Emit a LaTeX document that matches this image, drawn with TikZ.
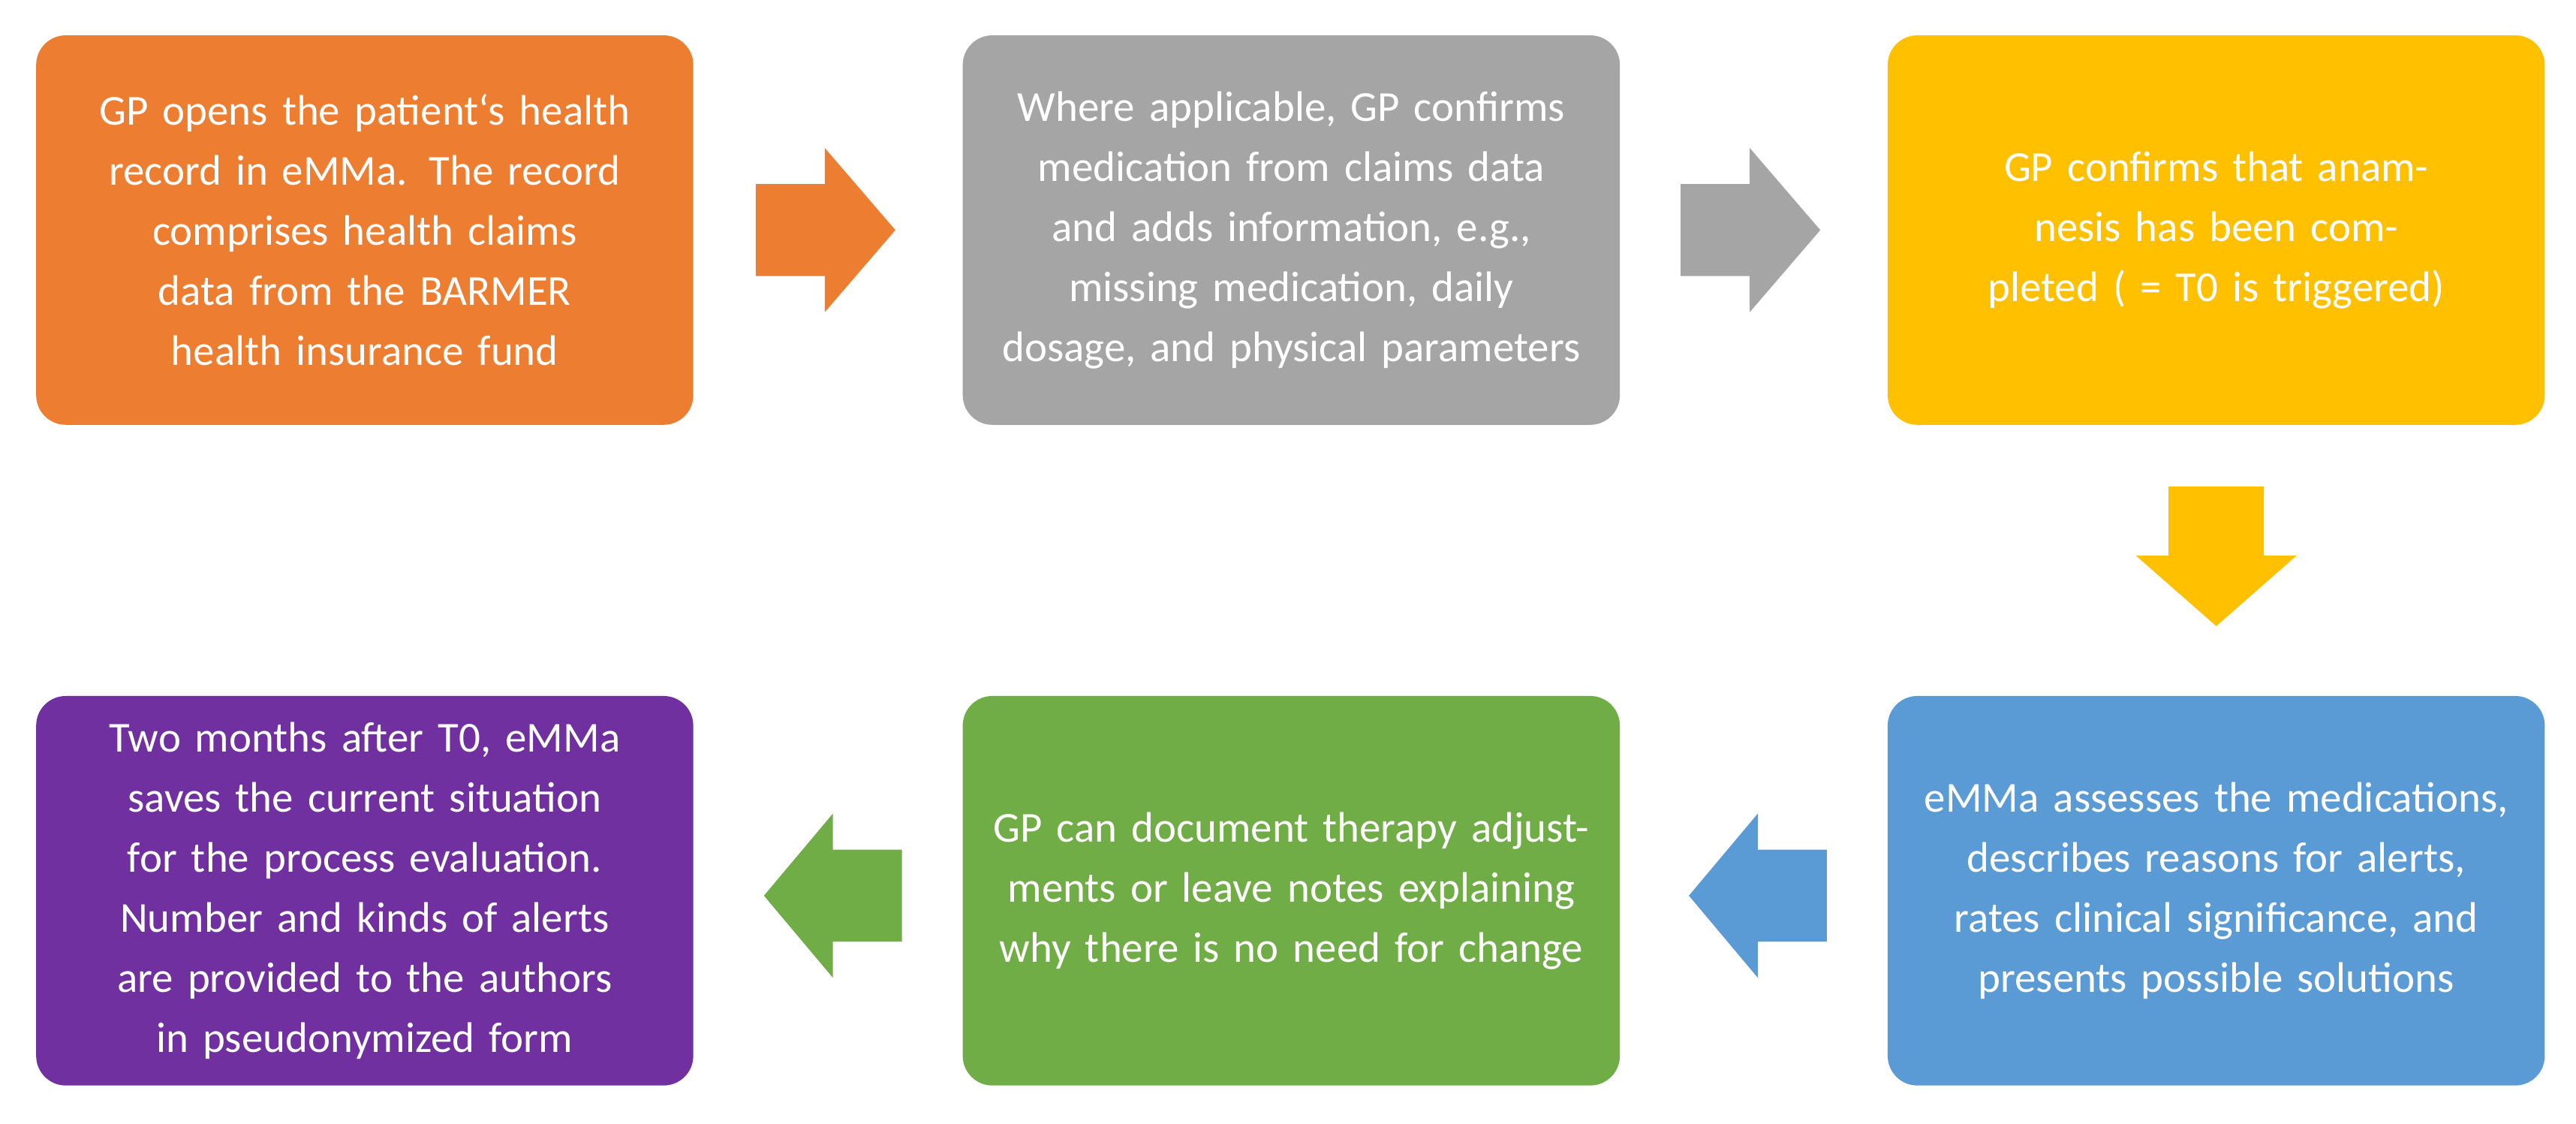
\documentclass[tikz,border=0pt]{standalone}
\usepackage{fontspec}
\setmainfont{Carlito}
\definecolor{cO}{HTML}{ED7D31}\definecolor{cG}{HTML}{A5A5A5}\definecolor{cY}{HTML}{FFC000}
\definecolor{cB}{HTML}{5B9BD5}\definecolor{cN}{HTML}{70AD47}\definecolor{cP}{HTML}{7030A0}
\begin{document}
\begin{tikzpicture}[x=0.05cm,y=-0.05cm,
 box/.style={rounded corners=0.9cm,minimum width=20cm,minimum height=11.85cm,text width=18.6cm,align=center,text=white,inner sep=0pt,font=\fontsize{37}{52}\selectfont},
 arr/.style={draw=none}]
\useasboundingbox (0,0) rectangle (1568,683.5);
\node[box,fill=cO] (b1) at (222,140) {GP opens the patient‘s health record in eMMa. The record comprises health claims data from the BARMER health insurance fund};
\node[box,fill=cG] (b2) at (786,140) {Where applicable, GP confirms medication from claims data and adds information, e.g., missing medication, daily dosage, and physical parameters};
\node[box,fill=cY] (b3) at (1349,140) {GP confirms that anamnesis has been completed ( = T0 is triggered)};
\node[box,fill=cB] (b4) at (1349,542) {eMMa assesses the medications, describes reasons for alerts, rates clinical significance, and presents possible solutions};
\node[box,fill=cN] (b5) at (786,542) {GP can document therapy adjustments or leave notes explaining why there is no need for change};
\node[box,fill=cP] (b6) at (222,542) {Two months after T0, eMMa saves the current situation for the process evaluation. Number and kinds of alerts are provided to the authors in pseudonymized form};
\fill[cO] (460,112)--(502,112)--(502,90)--(545,140)--(502,190)--(502,168)--(460,168)--cycle;
\fill[cG] (1023,112)--(1065,112)--(1065,90)--(1108,140)--(1065,190)--(1065,168)--(1023,168)--cycle;
\fill[cY] (1320,296)--(1378,296)--(1378,338)--(1398,338)--(1349,381)--(1300,338)--(1320,338)--cycle;
\fill[cB] (1112,517)--(1070,517)--(1070,495)--(1028,545)--(1070,595)--(1070,573)--(1112,573)--cycle;
\fill[cN] (549,517)--(507,517)--(507,495)--(465,545)--(507,595)--(507,573)--(549,573)--cycle;
\end{tikzpicture}
\end{document}
